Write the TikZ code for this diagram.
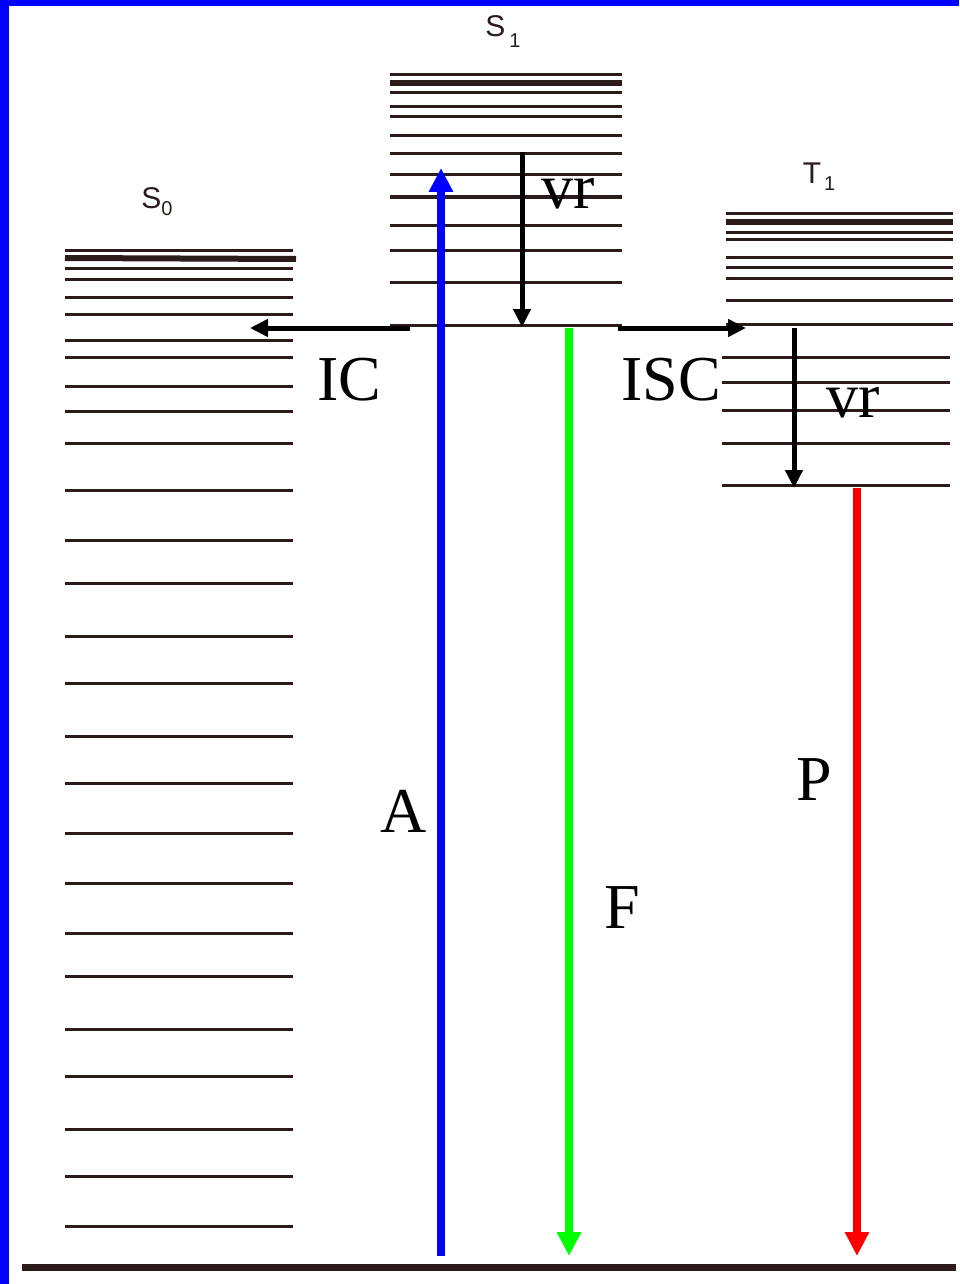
\documentclass[tikz,border=0pt]{standalone}
\usepackage{fontspec}
\setmainfont{Liberation Serif}
\newfontfamily\lblfont{Liberation Sans}
\usetikzlibrary{arrows.meta}
\definecolor{lvl}{HTML}{2B1B1B}
\definecolor{pblue}{RGB}{0,0,255}
\definecolor{pgreen}{RGB}{0,255,0}
\definecolor{pred}{RGB}{255,0,0}
\begin{document}
\begin{tikzpicture}[x=1pt,y=-1pt,
  level/.style={draw=lvl,line width=3pt},
  thicklevel/.style={draw=lvl,line width=6pt},
  bigtxt/.style={font=\fontsize{64}{64}\selectfont, inner sep=0pt, anchor=base},
  statetxt/.style={font=\lblfont\fontsize{30}{30}\selectfont, text=lvl, inner sep=0pt, anchor=base},
  colarrow/.style={line width=7.5pt, -{Triangle[width=23pt,length=24pt]}},
  blkarrow/.style={line width=5pt, draw=black, -{Triangle[width=17pt,length=18pt]}},
]
\useasboundingbox (0,0) rectangle (959,1284);
\fill[white] (0,0) rectangle (959,1284);
% blue frame
\fill[pblue] (0,0) rectangle (959,6);
\fill[pblue] (0,0) rectangle (9,1284);

% S0 levels
\foreach \y in {250,268,279,297,314,340,357,386,411,443,490,540,583,636,683,736,783,833,883,933,976,1029,1076,1129,1176,1226}
  \draw[level] (65,\y) -- (293,\y);
\draw[thicklevel] (65,258) -- (296,259);

% S1 levels
\foreach \y in {75,93,107,117,136,154,175,197,225,250,282,325}
  \draw[level] (390,\y) -- (622,\y);
\draw[thicklevel] (390,83) -- (622,83);

% T1 levels
\foreach \y in {213,232,239,257,267,278,300,324}
  \draw[level] (726,\y) -- (953,\y);
\draw[thicklevel] (726,222) -- (953,222);
\foreach \y in {357,382,410,443,485}
  \draw[level] (722,\y) -- (950,\y);

% ground line
\draw[draw=lvl,line width=7pt] (22,1267) -- (956,1267);

% state labels
\node[statetxt] (s0) at (157,208) {S\raisebox{-7pt}{\fontsize{20}{20}\selectfont 0}};
\node[statetxt] (s1) at (503,37) {S\hspace{4pt}\raisebox{-11pt}{\fontsize{20}{20}\selectfont 1}};
\node[statetxt] (t1) at (819,183) {T\hspace{3pt}\raisebox{-7pt}{\fontsize{20}{20}\selectfont 1}};

% arrow end points
\coordinate (aS) at (441,1256);
\coordinate (aE) at (441,168);
\coordinate (fS) at (569,328);
\coordinate (fE) at (569,1256);
\coordinate (pS) at (857,488);
\coordinate (pE) at (857,1256);
\coordinate (icS) at (410,328);
\coordinate (icE) at (250,328);
\coordinate (iscS) at (618,328);
\coordinate (iscE) at (746,328);
\coordinate (vr1S) at (522,152);
\coordinate (vr1E) at (522,327);
\coordinate (vr2S) at (794,328);
\coordinate (vr2E) at (794,488);

% transitions
\draw[colarrow, draw=pblue, fill=pblue] (aS) -- (aE);
\draw[colarrow, draw=pgreen, fill=pgreen] (fS) -- (fE);
\draw[colarrow, draw=pred, fill=pred] (pS) -- (pE);
\draw[blkarrow] (icS) -- (icE);
\draw[blkarrow] (iscS) -- (iscE);
\draw[blkarrow] (vr1S) -- (vr1E);
\draw[blkarrow] (vr2S) -- (vr2E);

% labels
\node[bigtxt] (lIC) at (349,400) {IC};
\node[bigtxt] (lISC) at (671,400) {ISC};
\node[bigtxt] (lA) at (404,832) {A};
\node[bigtxt] (lF) at (622,928) {F};
\node[bigtxt] (lP) at (814,800) {P};
\node[bigtxt] (lvr1) at (568,208) {vr};
\node[bigtxt] (lvr2) at (853,417) {vr};
\end{tikzpicture}
\end{document}
